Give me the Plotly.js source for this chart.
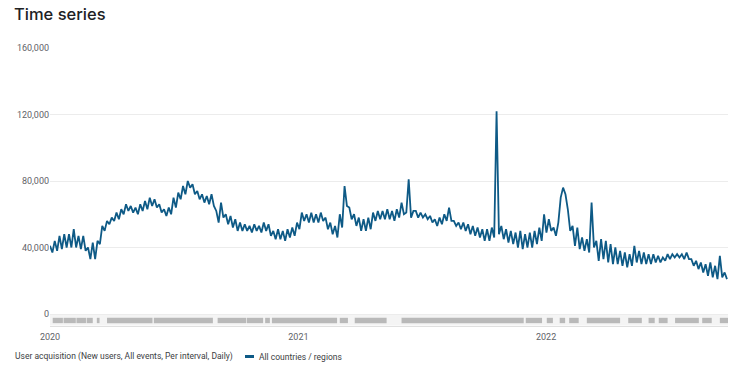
<!DOCTYPE html>
<html>
<head>
<meta charset="utf-8">
<script src="https://cdn.plot.ly/plotly-3.0.1.min.js"></script>
<style>html,body{margin:0;padding:0;background:#fff;}#chart{width:740px;height:370px;}</style>
</head>
<body>
<div id="chart"></div>
<script>
// Series: New users per day, sampled twice a week (weekday high / weekend low), in thousands
const seriesStart = '2020-01-01';
const sampleStepDays = 3.5;
const newUsersK = [
  41,37, 44,38, 47,39, 48,40, 48,40, 51,40, 47,39, 47,38, 40,33, 43,33,
  44,42, 53,50, 56,54, 58,56, 61,57, 63,60, 66,62, 65,61, 64,60, 66,62,
  68,63, 70,65, 69,64, 66,61, 63,59, 64,60, 70,64, 73,69, 77,72, 80,76,
  78,72, 74,69, 72,67, 71,66, 72,65, 62,55, 67,58, 60,54, 59,52, 57,50,
  55,50, 54,50, 53,49, 54,50, 53,49, 55,50, 54,47, 50,45, 51,45, 50,44,
  51,46, 52,47, 55,51, 61,56, 60,55, 61,55, 60,55, 61,56, 58,51, 55,48,
  53,46, 60,52, 77,65, 64,57, 60,53, 58,50, 57,50, 58,51, 61,56, 62,57,
  62,57, 63,57, 62,56, 63,58, 67,60, 61,81, 58,62, 62,58, 61,58, 60,57,
  59,55, 57,53, 58,54, 60,56, 64,56, 56,53, 55,51, 55,50, 54,48, 53,47,
  52,46, 51,44, 51,44, 52,46, 122,48, 53,45, 51,43, 50,42, 49,40, 50,39,
  48,40, 49,40, 50,42, 52,44, 60,49, 57,50, 52,47, 55,70, 76,72, 63,50,
  53,41, 52,39, 46,38, 45,37, 67,40, 44,32, 45,33, 44,31, 42,30, 40,30,
  38,29, 37,28, 36,29, 41,31, 38,30, 37,30, 36,30, 36,31, 35,31, 34,32,
  36,33, 36,34, 36,34, 36,33, 37,33, 33,29, 32,27, 31,25, 30,23, 31,22,
  29,21, 35,22, 25,21
];

// Annotation strip (date ranges)
const stripStart = ['2020-01-05','2020-01-21','2020-02-09','2020-02-24','2020-03-10','2020-03-25','2020-06-02','2020-09-04','2020-10-17','2020-11-13','2020-11-23','2021-03-03','2021-03-25','2021-06-02','2021-12-02','2022-01-02','2022-01-21','2022-02-04','2022-03-02','2022-05-02','2022-06-01','2022-06-16','2022-07-10','2022-08-19','2022-09-14'];
const stripEnd   = ['2020-01-20','2020-02-08','2020-02-23','2020-03-04','2020-03-14','2020-05-31','2020-08-28','2020-10-16','2020-11-10','2020-11-20','2021-02-27','2021-03-15','2021-05-11','2021-11-29','2021-12-26','2022-01-11','2022-01-29','2022-02-18','2022-04-20','2022-05-22','2022-06-10','2022-06-29','2022-08-14','2022-09-02','2022-09-26'];

const yTickVals = [0, 40000, 80000, 120000, 160000];
const yTickText = ['0', '40,000', '80,000', '120,000', '160,000'];
const xRange = ['2020-01-01', '2022-09-26'];

const metricLabel = 'User acquisition (New users, All events, Per interval, Daily)';
const seriesName = 'All countries / regions';

const t0 = Date.parse(seriesStart + 'T00:00:00Z');
const xs = newUsersK.map((v, i) => new Date(t0 + i * sampleStepDays * 86400000).toISOString().slice(0, 19).replace('T', ' '));
const ys = newUsersK.map(v => v * 1000);

const lineColor = '#0e5a86';
const font = 'Roboto, "Noto Sans", Arial, sans-serif';

const shapes = [
  {type:'rect', xref:'paper', yref:'y', x0:0, x1:1, y0:-6900, y1:0, fillcolor:'#f4f4f4', line:{width:0}, layer:'below'}
];
stripStart.forEach((s, i) => {
  shapes.push({type:'rect', xref:'x', yref:'y', x0:s, x1:stripEnd[i], y0:-5500, y1:-2300,
    fillcolor:'rgba(160,160,160,0.7)', line:{width:0}, layer:'below'});
});
// legend dash
shapes.push({type:'line', xref:'paper', yref:'paper', x0:(245-50)/678, x1:(254-50)/678, y0:-(356.5-326)/278, y1:-(356.5-326)/278,
  line:{color:lineColor, width:3}});

const trace = {
  type:'scatter', mode:'lines', name:seriesName, x:xs, y:ys,
  line:{color:lineColor, width:1.8}, hoverinfo:'skip', showlegend:false
};

const layout = {
  width:740, height:370,
  margin:{l:50, r:12, t:48, b:44},
  paper_bgcolor:'#fff', plot_bgcolor:'#fff',
  title:{text:'Time series', font:{family:'Inter, Roboto, sans-serif', size:16.5, weight:500, color:'#202124'},
    xref:'container', yref:'container', x:14/740, xanchor:'left', y:1-14/370, yanchor:'middle'},
  xaxis:{type:'date', range:xRange, tickformat:'%Y', dtick:'M12', tick0:'2020-01-01',
    showgrid:false, zeroline:false, showline:true, linecolor:'#e0e0e0', linewidth:1, ticks:'',
    tickfont:{family:font, size:9, color:'#5f6368'}, ticklabelstandoff:2},
  yaxis:{range:[-7218, 160000], tickvals:yTickVals, ticktext:yTickText, showgrid:true, gridcolor:'#ececec',
    zeroline:false, showline:false, ticks:'', tickfont:{family:font, size:9, color:'#5f6368'}},
  shapes:shapes,
  annotations:[
    {text:metricLabel, xref:'paper', yref:'paper', x:-37/678, y:-(356.5-326)/278, xanchor:'left', yanchor:'middle',
      showarrow:false, font:{family:font, size:8.5, color:'#3c4043'}},
    {text:seriesName, xref:'paper', yref:'paper', x:(257-50)/678, y:-(356.5-326)/278, xanchor:'left', yanchor:'middle',
      showarrow:false, font:{family:font, size:8.5, color:'#3c4043'}}
  ],
  showlegend:false
};

Plotly.newPlot('chart', [trace], layout, {displayModeBar:false, staticPlot:true});
</script>
</body>
</html>
